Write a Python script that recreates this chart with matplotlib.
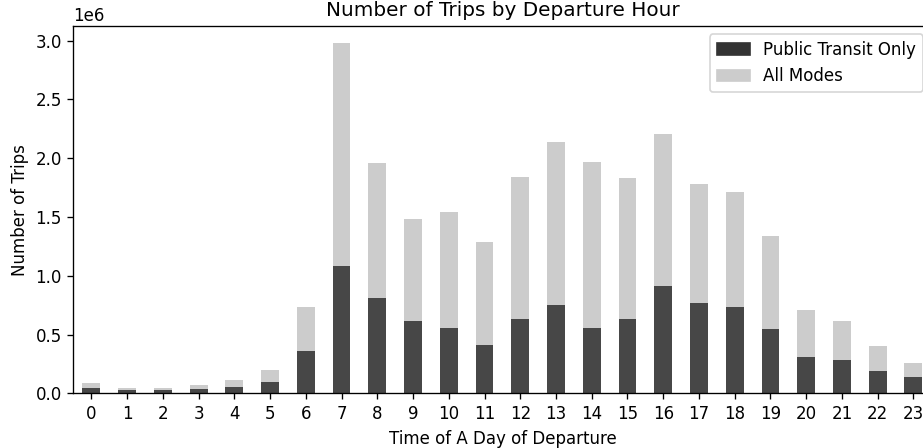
import matplotlib.pyplot as plt
from matplotlib.patches import Patch
import numpy as np

hours = list(range(24))
all_modes = [0.085, 0.048, 0.043, 0.068, 0.110, 0.198, 0.737, 2.975, 1.957, 1.486,
             1.540, 1.285, 1.843, 2.139, 1.966, 1.832, 2.201, 1.784, 1.711, 1.336,
             0.706, 0.615, 0.400, 0.258]
transit_only = [0.048, 0.028, 0.028, 0.037, 0.056, 0.096, 0.360, 1.083, 0.808, 0.615,
                0.553, 0.411, 0.635, 0.749, 0.553, 0.635, 0.911, 0.766, 0.737, 0.545,
                0.309, 0.281, 0.187, 0.136]

all_modes = np.array(all_modes) * 1e6
transit_only = np.array(transit_only) * 1e6

DARK = "#474747"
LIGHT = "#cccccc"

fig = plt.figure(figsize=(923 / 120, 448 / 120), dpi=120)
ax = fig.add_axes([0.0796, 0.1221, 0.9294, 0.8199])

x = np.arange(len(hours))
ax.bar(x, all_modes, width=0.5, color=LIGHT)
ax.bar(x, transit_only, width=0.5, color=DARK)
ax.set_xlim(-0.5, 23.5)
ax.set_xticks(x)
ax.set_xticklabels([str(h) for h in hours])

ax.set_title("Number of Trips by Departure Hour")
ax.set_xlabel("Time of A Day of Departure")
ax.set_ylabel("Number of Trips")

handles = [Patch(color="#333333", label="Public Transit Only"),
           Patch(color=LIGHT, label="All Modes")]
ax.legend(handles=handles, loc="upper right")

fig.savefig("out.png", dpi=120)
